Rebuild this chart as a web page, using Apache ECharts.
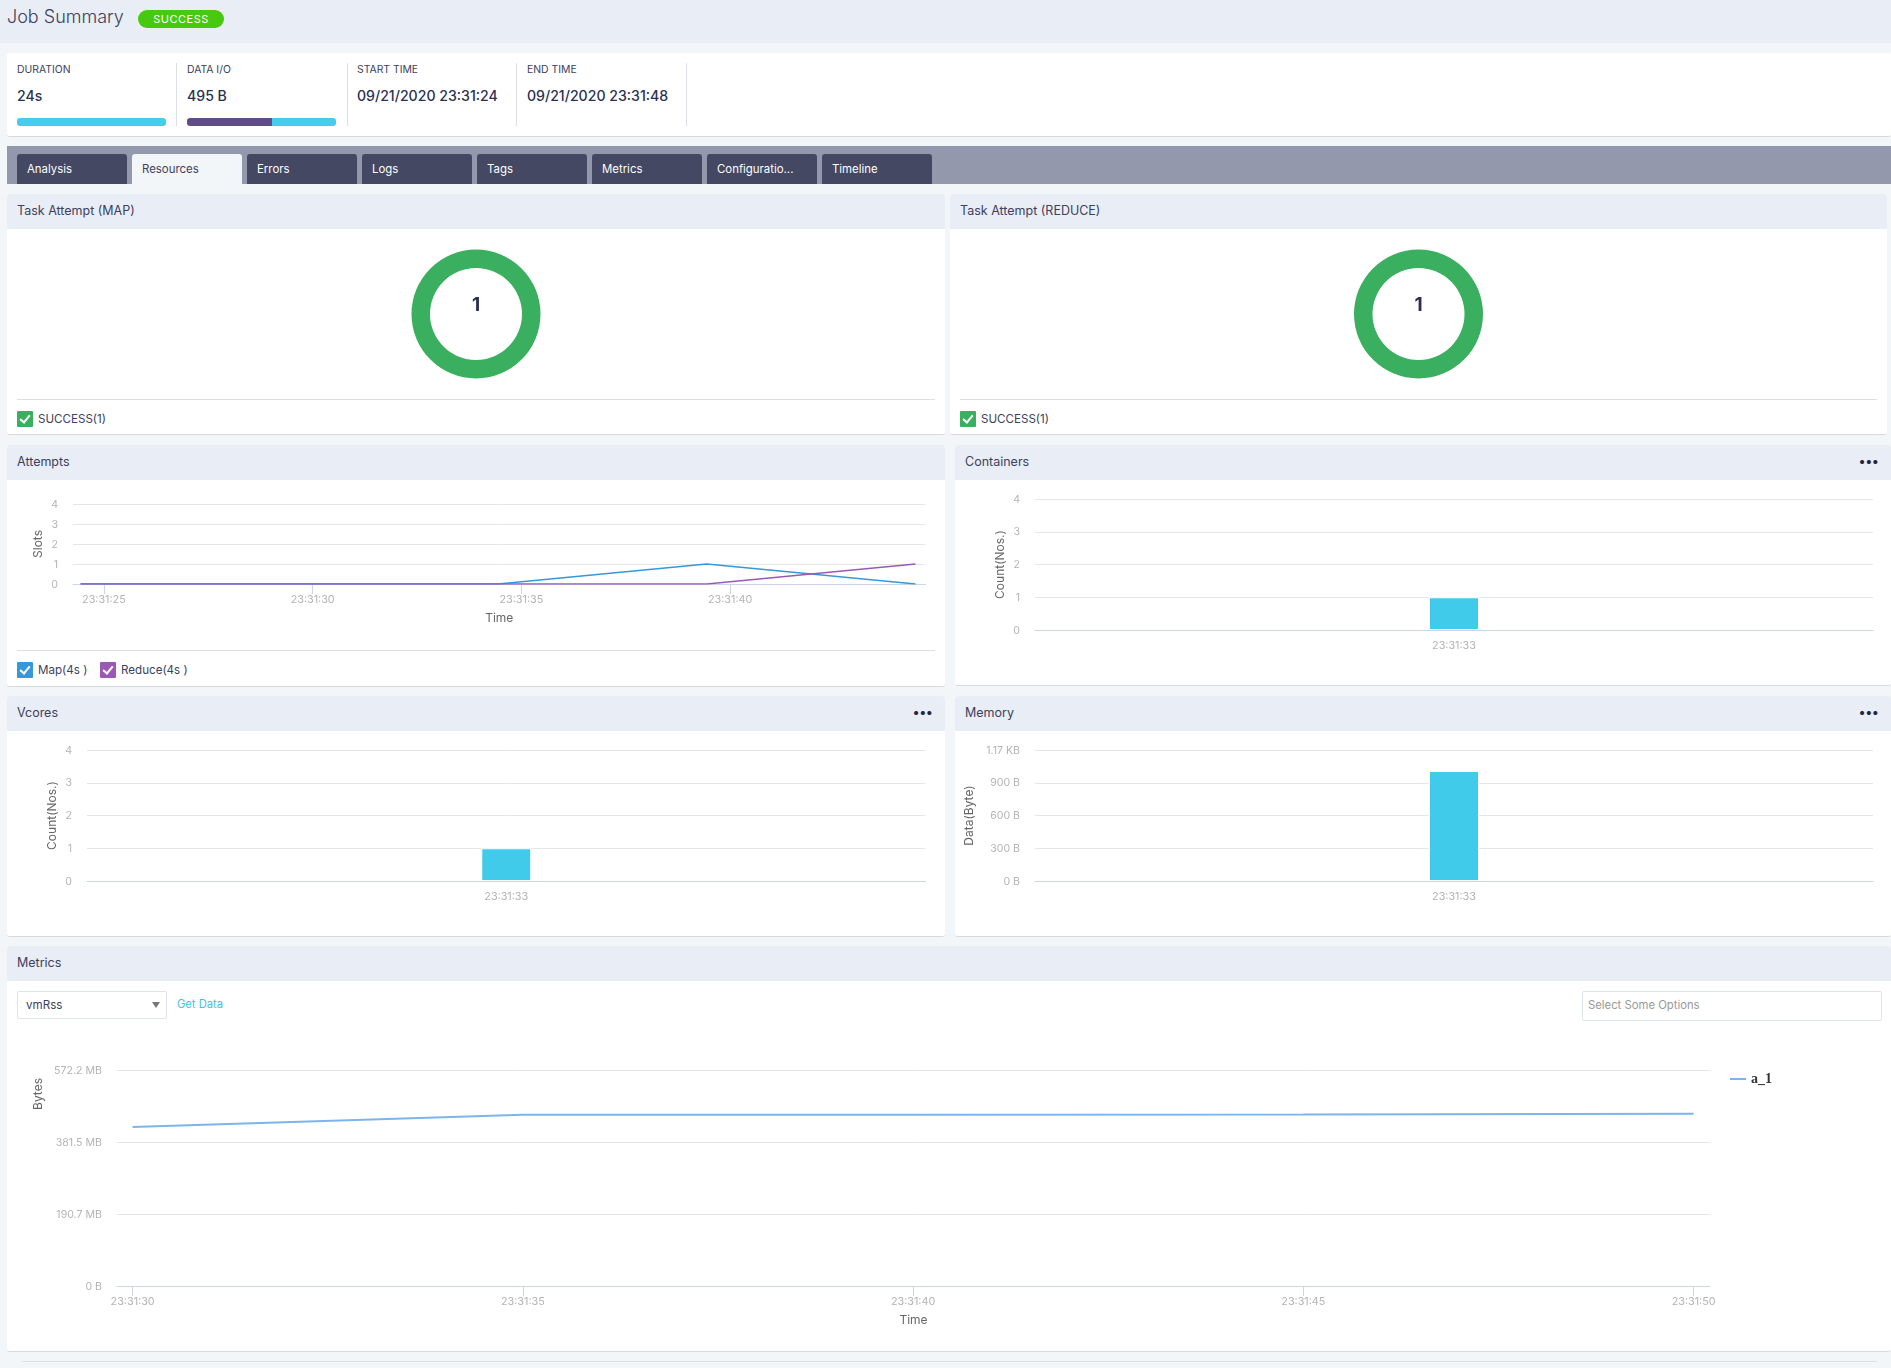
<!DOCTYPE html>
<html>
<head>
<meta charset="utf-8">
<title>Job Summary</title>
<script src="https://cdn.jsdelivr.net/npm/echarts@6/dist/echarts.min.js"></script>
<style>
html, body { margin: 0; padding: 0; width: 1891px; height: 1368px; overflow: hidden; background: #f3f6f9; font-family: Inter, Roboto, sans-serif; color: #2b2f52; }
.abs, .panel, .head, .chart, .txt { position: absolute; }
.panel { background: #fff; border-radius: 3px; border-bottom: 1px solid #d5dae0; box-sizing: border-box; }
.head { left: 0; top: 0; right: 0; height: 35px; line-height: 33px; padding-left: 10px; background: #e9edf5; font-size: 12.5px; color: #3d4160; border-radius: 3px 3px 0 0; }
.dots { position: absolute; right: 12px; top: 0; font-size: 13px; font-weight: 700; color: #23263f; letter-spacing: 0.5px; }
.txt { white-space: nowrap; }
.lbl { font-size: 10.4px; color: #3d4160; }
.val { font-size: 14.1px; font-weight: 500; color: #2b2f52; }
.vline { position: absolute; top: 63px; height: 63px; width: 1px; background: #dcdfe5; }
.tab { position: absolute; top: 154px; width: 110px; height: 30px; line-height: 30px; padding-left: 10px; box-sizing: border-box; font-size: 11.4px; background: #444863; color: #fff; border-radius: 3px 3px 0 0; }
.tab.on { background: #f3f6f9; color: #3d4160; }
.rule { position: absolute; height: 1px; background: #dcdfe5; }
.box { position: absolute; width: 16px; height: 16px; border-radius: 1px; }
.box:after { content: ""; position: absolute; left: 5px; top: 2px; width: 4px; height: 8px; border: solid #fff; border-width: 0 2px 2px 0; transform: rotate(40deg); }
.leg { font-size: 11.6px; color: #3d4160; }
.field { position: absolute; background: #fff; border: 1px solid #dfe3ea; border-radius: 2px; box-sizing: border-box; }
</style>
</head>
<body>
<div class="abs" style="left:0;top:0;width:1891px;height:43px;background:#e9edf5"></div>
<div class="txt" style="left:7px;top:5px;font-size:18px;line-height:24px;font-weight:300;color:#3d4160">Job Summary</div>
<div class="abs" style="left:138px;top:10px;width:86px;height:18px;line-height:19px;border-radius:9px;background:#46c90f;color:#fff;font-size:11px;text-align:center;letter-spacing:0.5px">SUCCESS</div>

<div class="panel" style="left:7px;top:53px;width:1884px;height:84px"></div>
<div class="vline" style="left:176px"></div><div class="vline" style="left:347px"></div><div class="vline" style="left:516px"></div><div class="vline" style="left:686px"></div>
<div class="txt lbl" style="left:17px;top:63px">DURATION</div>
<div class="txt lbl" style="left:187px;top:63px">DATA I/O</div>
<div class="txt lbl" style="left:357px;top:63px">START TIME</div>
<div class="txt lbl" style="left:527px;top:63px">END TIME</div>
<div class="txt val" style="left:17px;top:87px">24s</div>
<div class="txt val" style="left:187px;top:87px">495 B</div>
<div class="txt val" style="left:357px;top:87px">09/21/2020 23:31:24</div>
<div class="txt val" style="left:527px;top:87px">09/21/2020 23:31:48</div>
<div class="abs" style="left:17px;top:118px;width:149px;height:8px;border-radius:3px;background:#45cdea"></div>
<div class="abs" style="left:187px;top:118px;width:149px;height:8px;border-radius:3px;background:linear-gradient(90deg,#614d85 0,#614d85 57%,#45cdea 57%,#45cdea 100%)"></div>

<div class="abs" style="left:7px;top:146px;width:1884px;height:38px;background:#9398ad"></div>
<div class="tab" style="left:17px">Analysis</div>
<div class="tab on" style="left:132px">Resources</div>
<div class="tab" style="left:247px">Errors</div>
<div class="tab" style="left:362px">Logs</div>
<div class="tab" style="left:477px">Tags</div>
<div class="tab" style="left:592px">Metrics</div>
<div class="tab" style="left:707px">Configuratio...</div>
<div class="tab" style="left:822px">Timeline</div>

<div class="panel" style="left:7px;top:194px;width:938px;height:241px"><div class="head">Task Attempt (MAP)</div></div>
<div class="chart" id="mapDonut" style="left:7px;top:229px;width:938px;height:170px"></div>
<div class="rule" style="left:17px;top:399px;width:918px"></div>
<div class="box" style="left:17px;top:411px;background:#3aaf5f"></div>
<div class="txt leg" style="left:38px;top:412px">SUCCESS(1)</div>

<div class="panel" style="left:950px;top:194px;width:937px;height:241px"><div class="head">Task Attempt (REDUCE)</div></div>
<div class="chart" id="reduceDonut" style="left:950px;top:229px;width:937px;height:170px"></div>
<div class="rule" style="left:960px;top:399px;width:917px"></div>
<div class="box" style="left:960px;top:411px;background:#3aaf5f"></div>
<div class="txt leg" style="left:981px;top:412px">SUCCESS(1)</div>

<div class="panel" style="left:7px;top:445px;width:938px;height:242px"><div class="head">Attempts</div></div>
<div class="chart" id="attempts" style="left:7px;top:480px;width:938px;height:170px"></div>
<div class="rule" style="left:17px;top:650px;width:918px"></div>
<div class="box" style="left:17px;top:662px;background:#3498db"></div>
<div class="txt leg" style="left:38px;top:663px">Map(4s )</div>
<div class="box" style="left:100px;top:662px;background:#9b59b6"></div>
<div class="txt leg" style="left:121px;top:663px">Reduce(4s )</div>

<div class="panel" style="left:955px;top:445px;width:936px;height:241px"><div class="head">Containers<span class="dots">•••</span></div></div>
<div class="chart" id="containers" style="left:955px;top:480px;width:936px;height:206px"></div>

<div class="panel" style="left:7px;top:696px;width:938px;height:241px"><div class="head">Vcores<span class="dots">•••</span></div></div>
<div class="chart" id="vcores" style="left:7px;top:731px;width:938px;height:205px"></div>

<div class="panel" style="left:955px;top:696px;width:936px;height:241px"><div class="head">Memory<span class="dots">•••</span></div></div>
<div class="chart" id="memory" style="left:955px;top:731px;width:936px;height:205px"></div>

<div class="panel" style="left:7px;top:946px;width:1884px;height:406px"><div class="head">Metrics</div></div>
<div class="field" style="left:17px;top:991px;width:150px;height:28px"></div>
<div class="txt" style="left:26px;top:998px;font-size:11.6px;color:#3d4160">vmRss</div>
<div class="abs" style="left:152px;top:1002px;width:0;height:0;border-left:4px solid transparent;border-right:4px solid transparent;border-top:6px solid #777"></div>
<div class="txt" style="left:177px;top:997px;font-size:11.2px;color:#3fc4e6">Get Data</div>
<div class="field" style="left:1582px;top:991px;width:300px;height:30px"></div>
<div class="txt" style="left:1588px;top:998px;font-size:11.3px;color:#999">Select Some Options</div>
<div class="chart" id="metrics" style="left:7px;top:1030px;width:1884px;height:321px"></div>
<div class="rule" style="left:22px;top:1361px;width:1855px"></div>

<script>
var taskCounts = [1];
var attemptTimes = ['2020-09-21 23:31:24.440', '2020-09-21 23:31:29.440', '2020-09-21 23:31:34.440', '2020-09-21 23:31:39.440', '2020-09-21 23:31:44.440'];
var mapSlots = [0, 0, 0, 1, 0];
var reduceSlots = [0, 0, 0, 0, 1];
var attemptTicks = ['2020-09-21 23:31:25', '2020-09-21 23:31:30', '2020-09-21 23:31:35', '2020-09-21 23:31:40'];
var barTimes = ['23:31:33'];
var containerCounts = [1];
var vcoreCounts = [1];
var memoryBytes = [1008];
var metricTimes = ['2020-09-21 23:31:30', '2020-09-21 23:31:35', '2020-09-21 23:31:40', '2020-09-21 23:31:45', '2020-09-21 23:31:50'];
var vmRssBytes = [441700000, 475800000, 476000000, 476300000, 478600000];

var LABEL = '#b4b4b4', NAME = '#666', GRID = '#e6e6e6', AXIS = '#ccd6eb', FONT = 'Inter, Roboto, sans-serif';

function zip(xs, ys) {
    return xs.map(function(x, i) { return [x, ys[i]]; });
}

function donut(id) {
    var chart = echarts.init(document.getElementById(id));
    chart.setOption({
        animation: false,
        title: { text: String(taskCounts[0]), left: 'center', top: 62, textStyle: { fontSize: 19, fontWeight: 'bold', color: '#2b2f52', fontFamily: FONT } },
        series: [{
            type: 'pie',
            radius: [46, 64.5],
            center: ['50%', '50%'],
            silent: true,
            label: { show: false },
            itemStyle: { color: '#3aaf5f' },
            data: taskCounts
        }]
    });
}

function yAxis(name, gap, labelOpts, max, interval) {
    return {
        type: 'value',
        min: 0,
        max: max,
        interval: interval,
        name: name,
        nameLocation: 'middle',
        nameGap: gap,
        nameMoveOverlap: false,
        nameTextStyle: { color: NAME, fontSize: 12, fontFamily: FONT },
        axisLine: { show: false },
        axisTick: { show: false },
        splitLine: { lineStyle: { color: GRID, width: 1 } },
        // labels sit a little below their grid line
        axisLabel: Object.assign({ color: LABEL, fontSize: 10.6, fontFamily: FONT, margin: 15, verticalAlign: 'top', padding: [-5, 0, 0, 0] }, labelOpts || {})
    };
}

function timeAxis(min, max, ticks, nameGap) {
    return {
        type: 'time',
        min: min,
        max: max,
        name: 'Time',
        nameLocation: 'middle',
        nameGap: nameGap,
        nameTextStyle: { color: NAME, fontSize: 12, fontFamily: FONT },
        splitLine: { show: false },
        axisLine: { lineStyle: { color: AXIS } },
        axisTick: { length: 10, lineStyle: { color: AXIS }, customValues: ticks },
        axisLabel: { color: LABEL, fontSize: 10.8, fontFamily: FONT, margin: 10, customValues: ticks, formatter: '{HH}:{mm}:{ss}', hideOverlap: false }
    };
}

function barChart(id, grid, y, values) {
    var chart = echarts.init(document.getElementById(id));
    chart.setOption({
        animation: false,
        grid: grid,
        xAxis: {
            type: 'category',
            data: barTimes,
            axisLine: { lineStyle: { color: AXIS } },
            axisTick: { length: 10, alignWithLabel: true, lineStyle: { color: AXIS } },
            axisLabel: { color: LABEL, fontSize: 10.8, fontFamily: FONT, margin: 10 }
        },
        yAxis: y,
        series: [{
            type: 'bar',
            barWidth: 50,
            data: values,
            itemStyle: { color: '#40cbeb', borderColor: '#fff', borderWidth: 1 }
        }]
    });
}

donut('mapDonut');
donut('reduceDonut');

var attempts = echarts.init(document.getElementById('attempts'));
attempts.setOption({
    animation: false,
    grid: { left: 66, right: 19.5, top: 24, bottom: 66 },
    xAxis: timeAxis('2020-09-21 23:31:24.260', '2020-09-21 23:31:44.680', attemptTicks, 28),
    yAxis: yAxis('Slots', 29, {}, 4, 1),
    series: [
        { name: 'Map', type: 'line', symbol: 'none', data: zip(attemptTimes, mapSlots), lineStyle: { color: '#3498db', width: 1.5 } },
        { name: 'Reduce', type: 'line', symbol: 'none', data: zip(attemptTimes, reduceSlots), lineStyle: { color: '#9b59b6', width: 1.5 } }
    ]
});

barChart('containers', { left: 80, right: 18, top: 19, bottom: 56 }, yAxis('Count(Nos.)', 29, {}, 4, 1), containerCounts);
barChart('vcores', { left: 80, right: 19.5, top: 19, bottom: 55 }, yAxis('Count(Nos.)', 29, {}, 4, 1), vcoreCounts);
barChart('memory', { left: 80, right: 18, top: 19, bottom: 55 }, yAxis('Data(Byte)', 60, {
    formatter: function(v) { return v >= 1024 ? (v / 1024).toFixed(2) + ' KB' : v + ' B'; }
}, 1200, 300), memoryBytes);

var metricsAxisY = yAxis('', 0, {
    formatter: function(v) { return v === 0 ? '0 B' : (v / 1048576).toFixed(1) + ' MB'; }
}, 600000000, 200000000);

var metrics = echarts.init(document.getElementById('metrics'));
metrics.setOption({
    animation: false,
    grid: { left: 110, right: 181, top: 40, bottom: 65 },
    legend: {
        left: 1718, top: 37,
        icon: 'rect', itemWidth: 16, itemHeight: 2, itemGap: 5,
        textStyle: { fontFamily: 'Liberation Serif', fontSize: 14, fontWeight: 'bold', color: '#333' },
        data: ['a_1']
    },
    graphic: [{
        type: 'text', left: 25, top: 48, rotation: Math.PI / 2,
        style: { text: 'Bytes', fill: NAME, fontSize: 12, fontFamily: FONT }
    }],
    xAxis: timeAxis('2020-09-21 23:31:29.800', '2020-09-21 23:31:50.210', metricTimes, 28),
    yAxis: metricsAxisY,
    series: [{ name: 'a_1', type: 'line', symbol: 'none', data: zip(metricTimes, vmRssBytes), itemStyle: { color: '#7cb5ec' }, lineStyle: { color: '#7cb5ec', width: 2 } }]
});
</script>
</body>
</html>
